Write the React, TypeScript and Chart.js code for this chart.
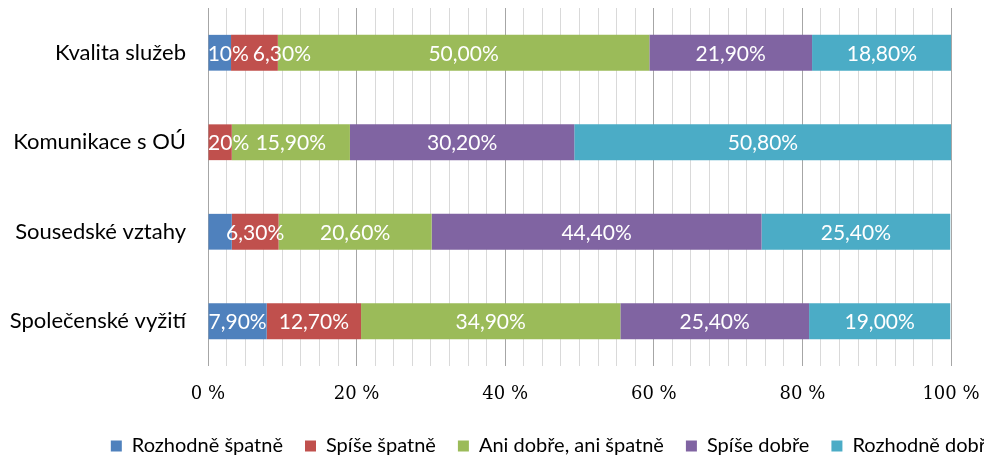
import React, { useEffect, useRef } from "react";
import { Chart, registerables } from "chart.js";

Chart.register(...registerables);

const categories = ["Kvalita služeb", "Komunikace s OÚ", "Sousedské vztahy", "Společenské vyžití"];
const seriesNames = ["Rozhodně špatně", "Spíše špatně", "Ani dobře, ani špatně", "Spíše dobře", "Rozhodně dobře"];
const rozhodneSpatne = [3.1, 0, 3.2, 7.9];
const spiseSpatne = [6.3, 3.2, 6.3, 12.7];
const aniAni = [50.0, 15.9, 20.6, 34.9];
const spiseDobre = [21.9, 30.2, 44.4, 25.4];
const rozhodneDobre = [18.8, 50.8, 25.4, 19.0];
const xTicks = [0, 20, 40, 60, 80, 100];
const hiddenLabels = ["Sousedské vztahy|Rozhodně špatně"];

const colors = ["#4F81BD", "#C0504D", "#9BBB59", "#8064A2", "#4BACC6"];
const W = 1107;
const H = 466;
const SANS = "Lato";

const fmt = (v: number) => v.toFixed(2).replace(".", ",") + "%";

const labelPlugin = {
  id: "segLabels",
  afterDatasetsDraw(chart: any) {
    const ctx = chart.ctx;
    const area = chart.chartArea;
    ctx.save();
    ctx.beginPath();
    ctx.rect(area.left, area.top, area.right - area.left, area.bottom - area.top);
    ctx.clip();
    ctx.font = `21px ${SANS}`;
    ctx.fillStyle = "#ffffff";
    ctx.textAlign = "left";
    ctx.textBaseline = "middle";
    categories.forEach((cat, i) => {
      let prevRight = -Infinity;
      chart.data.datasets.forEach((ds: any, d: number) => {
        const v = ds.data[i];
        if (!v) return;
        if (hiddenLabels.includes(cat + "|" + ds.label)) return;
        const el = chart.getDatasetMeta(d).data[i];
        const cx = (el.x + el.base) / 2;
        const txt = fmt(v);
        const w = ctx.measureText(txt).width;
        let left = cx - w / 2;
        if (left < prevRight + 4) left = prevRight + 4;
        ctx.fillText(txt, left, el.y + 1);
        prevRight = left + w;
      });
    });
    ctx.restore();
  },
};

const zeroPad = (s: any) => {
  s.paddingTop = 0;
  s.paddingBottom = 0;
};

export default function App() {
  const ref = useRef<HTMLCanvasElement>(null);
  useEffect(() => {
    const all = [rozhodneSpatne, spiseSpatne, aniAni, spiseDobre, rozhodneDobre];
    const chart = new Chart(ref.current!, {
      type: "bar",
      data: {
        labels: categories,
        datasets: all.map((arr, k) => ({
          label: seriesNames[k],
          data: arr,
          backgroundColor: colors[k],
          borderWidth: 0,
          barPercentage: 0.4,
          categoryPercentage: 1.0,
        })),
      },
      options: {
        indexAxis: "y",
        responsive: false,
        animation: false,
        devicePixelRatio: 1,
        layout: { padding: { top: 8, left: 0, right: 0, bottom: 0 } },
        plugins: {
          tooltip: { enabled: false },
          legend: {
            position: "bottom",
            labels: {
              boxWidth: 11,
              boxHeight: 11,
              padding: 22,
              color: "#000",
              font: { family: SANS, size: 20 },
            },
          },
        },
        scales: {
          x: {
            stacked: true,
            min: 0,
            max: 100,
            border: { display: false },
            grid: {
              drawTicks: false,
              color: (c: any) => (c.tick && c.tick.value % 20 === 0 ? "#a6a6a6" : "#d9d9d9"),
              lineWidth: 1,
            },
            ticks: {
              stepSize: 2.5,
              autoSkip: false,
              maxRotation: 0,
              padding: 18,
              color: "#000",
              font: { family: "DejaVu Serif", size: 18 },
              callback: (v: any) => (xTicks.includes(Number(v)) ? `${v} %` : ""),
            },
            afterFit: (s: any) => {
              s.height = 48;
            },
          },
          y: {
            stacked: true,
            border: { display: false },
            grid: { display: false, drawTicks: false },
            ticks: { color: "#000", padding: 22, font: { family: SANS, size: 22 } },
            afterFit: (s: any) => {
              s.width = 208;
              zeroPad(s);
            },
          },
          pad: {
            type: "linear",
            position: "right",
            display: true,
            grid: { display: false, drawTicks: false },
            border: { display: false },
            ticks: { display: false },
            afterFit: (s: any) => {
              s.width = W - 951;
              zeroPad(s);
            },
          },
        },
      } as any,
      plugins: [labelPlugin],
    });
    return () => chart.destroy();
  }, []);
  return (
    <div style={{ position: "absolute", left: 0, top: 0, width: 984, height: 462, overflow: "hidden", background: "#fff" }}>
      <canvas ref={ref} width={W} height={H} style={{ width: W, height: H, display: "block" }} />
    </div>
  );
}
